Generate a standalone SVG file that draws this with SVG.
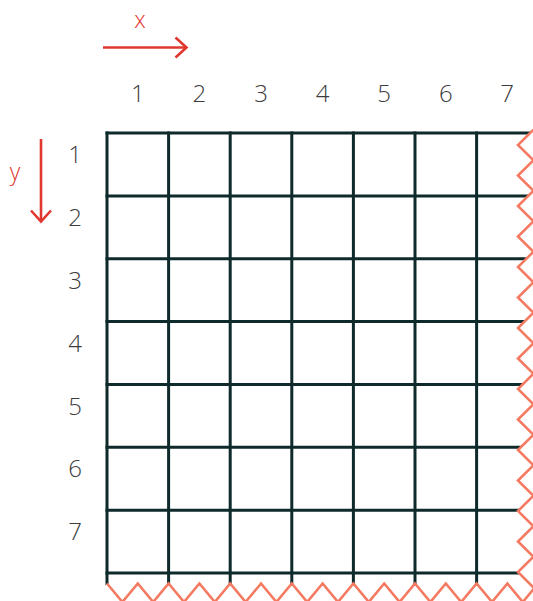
<svg xmlns="http://www.w3.org/2000/svg" width="533" height="601" viewBox="0 0 533 601">
<style>
.grid line{stroke:#0f2a2b;stroke-width:3;}
.lbl{font-family:"Open Sans","Noto Sans",sans-serif;font-weight:300;font-size:24px;fill:#3c3c3c;text-anchor:middle;}
.axl{font-family:"Open Sans","Noto Sans",sans-serif;font-weight:300;font-size:23px;fill:#e0382e;text-anchor:middle;}
.arrow{stroke:#e0382e;stroke-width:2.6;fill:none;}
.tear{stroke:#f47a62;stroke-width:2.6;fill:none;stroke-linejoin:miter;}
</style>
<defs>
<clipPath id="torn">
<polygon points="0,0 533.5,0 533.5,99.25 518,114.5 533.5,129.75 518,145 533.5,160.25 518,175.5 533.5,190.75 518,206 533.5,221.25 518,236.5 533.5,251.75 518,267 533.5,282.25 518,297.5 533.5,312.75 518,328 533.5,343.25 518,358.5 533.5,373.75 518,389 533.5,404.25 518,419.5 533.5,434.75 518,450 533.5,465.25 518,480.5 533.5,495.75 518,511 533.5,526.25 518,541.5 533.5,556.75 518,572 533.5,587.5 522.8,602 507.4,583.5 492,602 476.6,583.5 461.2,602 445.8,583.5 430.4,602 415,583.5 399.6,602 384.2,583.5 368.8,602 353.4,583.5 338,602 322.6,583.5 307.2,602 291.8,583.5 276.4,602 261,583.5 245.6,602 230.2,583.5 214.8,602 199.4,583.5 184,602 168.6,583.5 153.2,602 137.8,583.5 122.4,602 107,583.5 91.6,602 0,602"/>
</clipPath>
</defs>
<g id="grid" class="grid" clip-path="url(#torn)">
<line x1="107" y1="131.5" x2="107" y2="600"/>
<line x1="168.6" y1="131.5" x2="168.6" y2="600"/>
<line x1="230.2" y1="131.5" x2="230.2" y2="600"/>
<line x1="291.8" y1="131.5" x2="291.8" y2="600"/>
<line x1="353.4" y1="131.5" x2="353.4" y2="600"/>
<line x1="415" y1="131.5" x2="415" y2="600"/>
<line x1="476.6" y1="131.5" x2="476.6" y2="600"/>
<line x1="105.5" y1="133" x2="540" y2="133"/>
<line x1="105.5" y1="195.9" x2="540" y2="195.9"/>
<line x1="105.5" y1="258.7" x2="540" y2="258.7"/>
<line x1="105.5" y1="321.6" x2="540" y2="321.6"/>
<line x1="105.5" y1="384.4" x2="540" y2="384.4"/>
<line x1="105.5" y1="447.3" x2="540" y2="447.3"/>
<line x1="105.5" y1="510.2" x2="540" y2="510.2"/>
<line x1="105.5" y1="573" x2="540" y2="573"/>
</g>
<g id="torn-edges">
<polyline class="tear" points="533.5,129.75 518,145 533.5,160.25 518,175.5 533.5,190.75 518,206 533.5,221.25 518,236.5 533.5,251.75 518,267 533.5,282.25 518,297.5 533.5,312.75 518,328 533.5,343.25 518,358.5 533.5,373.75 518,389 533.5,404.25 518,419.5 533.5,434.75 518,450 533.5,465.25 518,480.5 533.5,495.75 518,511 533.5,526.25 518,541.5 533.5,556.75 518,572 533.5,587.5"/>
<polyline class="tear" points="107,583.5 122.4,602 137.8,583.5 153.2,602 168.6,583.5 184,602 199.4,583.5 214.8,602 230.2,583.5 245.6,602 261,583.5 276.4,602 291.8,583.5 307.2,602 322.6,583.5 338,602 353.4,583.5 368.8,602 384.2,583.5 399.6,602 415,583.5 430.4,602 445.8,583.5 461.2,602 476.6,583.5 492,602 507.4,583.5 522.8,602 538.2,583.5"/>
</g>
<g id="col-labels">
<text class="lbl" x="137.8" y="102">1</text>
<text class="lbl" x="199.4" y="102">2</text>
<text class="lbl" x="261" y="102">3</text>
<text class="lbl" x="322.6" y="102">4</text>
<text class="lbl" x="384.2" y="102">5</text>
<text class="lbl" x="445.8" y="102">6</text>
<text class="lbl" x="507" y="102">7</text>
</g>
<g id="row-labels">
<text class="lbl" x="75" y="163">1</text>
<text class="lbl" x="75" y="226">2</text>
<text class="lbl" x="75" y="289">3</text>
<text class="lbl" x="75" y="352">4</text>
<text class="lbl" x="75" y="414.5">5</text>
<text class="lbl" x="75" y="477.3">6</text>
<text class="lbl" x="75" y="540">7</text>
</g>
<g id="connectors">
<g id="x-axis">
<line class="arrow" x1="103" y1="47.5" x2="186" y2="47.5"/>
<polyline class="arrow" points="175.5,37.5 186.5,47.5 175.5,57.5"/>
</g>
<g id="y-axis">
<line class="arrow" x1="41" y1="139" x2="41" y2="221"/>
<polyline class="arrow" points="31,210.5 41,221.5 51,210.5"/>
</g>
</g>
<text class="axl" x="140" y="28">x</text>
<text class="axl" x="15" y="180">y</text>
</svg>
